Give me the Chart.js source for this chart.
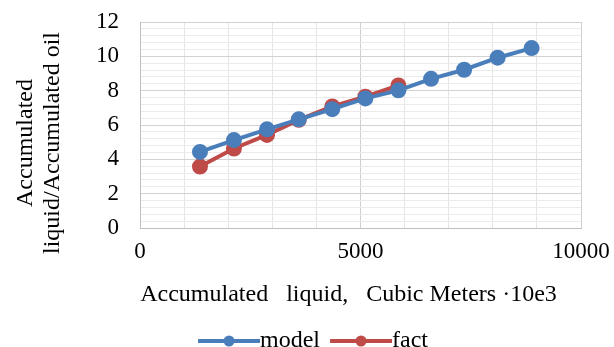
<!DOCTYPE html>
<html>
<head>
<meta charset="utf-8">
<script src="https://cdn.jsdelivr.net/npm/chart.js@4/dist/chart.umd.min.js"></script>
<style>
  html, body { margin: 0; padding: 0; background: #fff; }
  #wrap { width: 614px; height: 347px; }
</style>
</head>
<body>
<div id="wrap"><canvas id="chart"></canvas></div>
<script>
// data
const liquidX = [1360, 2130, 2880, 3600, 4360, 5110, 5860, 6600, 7350, 8110, 8880];
const modelY = [4.43, 5.12, 5.75, 6.33, 6.92, 7.55, 8.02, 8.69, 9.22, 9.92, 10.48];
const factX = [1360, 2130, 2880, 3600, 4360, 5110, 5860];
const factY = [3.58, 4.63, 5.42, 6.30, 7.08, 7.65, 8.30];
const seriesNames = ['model', 'fact'];
const xTickLabels = [0, 5000, 10000];
const yTickLabels = [0, 2, 4, 6, 8, 10, 12];
const yTitleLines = ['Accumulated', 'liquid/Accumulated oil'];
const xTitle = 'Accumulated   liquid,   Cubic Meters ·10e3    ';

const blue = '#4a7ebb';
const red = '#be4b48';
const serif = "'Liberation Serif', 'Times New Roman', serif";

// legend symbol: line with a dot, shifted so the line ends where the text starts
function legendIcon(color) {
  const c = document.createElement('canvas');
  c.width = 78; c.height = 14;
  const g = c.getContext('2d');
  g.strokeStyle = color; g.lineWidth = 4;
  g.beginPath(); g.moveTo(16, 7); g.lineTo(78, 7); g.stroke();
  g.fillStyle = color;
  g.beginPath(); g.arc(47, 7, 5.5, 0, Math.PI * 2); g.fill();
  return c;
}

const isNear = (v, list) => list.some(t => Math.abs(v - t) < 1e-6);

// two-line rotated y title, placed like in the source figure
const yTitlePlugin = {
  id: 'yTitle',
  afterDraw(chart) {
    const c = chart.ctx;
    c.save();
    c.fillStyle = '#000';
    c.font = '24px ' + serif;
    c.textAlign = 'center';
    c.textBaseline = 'middle';
    const xs = [26, 53];
    yTitleLines.forEach((t, i) => {
      c.save();
      c.translate(xs[i], 143);
      c.rotate(-Math.PI / 2);
      c.fillText(t, 0, 0);
      c.restore();
    });
    c.restore();
  }
};

const ctx = document.getElementById('chart').getContext('2d');
new Chart(ctx, {
  type: 'line',
  data: {
    datasets: [{
      label: seriesNames[0],
      data: liquidX.map((x, i) => ({ x: x, y: modelY[i] })),
      borderColor: blue,
      backgroundColor: blue,
      borderWidth: 4,
      pointRadius: 6,
      pointHoverRadius: 6,
      tension: 0
    }, {
      label: seriesNames[1],
      data: factX.map((x, i) => ({ x: x, y: factY[i] })),
      borderColor: red,
      backgroundColor: red,
      borderWidth: 4,
      pointRadius: 6,
      pointHoverRadius: 6,
      tension: 0
    }]
  },
  plugins: [yTitlePlugin],
  options: {
    responsive: true,
    maintainAspectRatio: false,
    animation: false,
    layout: { padding: { top: 22, right: 33, bottom: -16, left: 41 } },
    plugins: {
      tooltip: { enabled: false },
      legend: {
        position: 'bottom',
        labels: {
          color: '#000',
          font: { family: serif, size: 24 },
          usePointStyle: true,
          pointStyleWidth: 54,
          padding: 6,
          generateLabels: chart => chart.data.datasets.map((d, i) => ({
            text: d.label,
            pointStyle: legendIcon(d.borderColor),
            fillStyle: d.borderColor,
            strokeStyle: d.borderColor,
            lineWidth: 0,
            fontColor: '#000',
            datasetIndex: i
          }))
        }
      }
    },
    scales: {
      x: {
        type: 'linear',
        min: 0,
        max: 10000,
        afterFit: s => { s.height = 95; s.paddingLeft = 0; s.paddingRight = 0; },
        ticks: {
          stepSize: 1000,
          autoSkip: false,
          maxRotation: 0,
          color: '#000',
          padding: 10,
          font: { family: serif, size: 23 },
          callback: v => isNear(v, xTickLabels) ? v : ''
        },
        grid: {
          color: c => (c.tick && isNear(c.tick.value, [5000, 10000])) ? '#d0d0d0' : '#e4e4e4',
          drawTicks: false
        },
        border: { color: '#c0c0c0' },
        title: {
          display: true,
          text: xTitle,
          color: '#000',
          font: { family: serif, size: 24 },
          padding: { top: 4, bottom: 14 }
        }
      },
      y: {
        min: 0,
        max: 12,
        afterFit: s => { s.width = 99; s.paddingTop = 0; s.paddingBottom = 0; },
        ticks: {
          stepSize: 0.4,
          autoSkip: false,
          color: '#000',
          padding: 21,
          font: { family: serif, size: 23 },
          callback: v => isNear(v, yTickLabels) ? v : ''
        },
        grid: {
          color: c => (c.tick && isNear(c.tick.value, yTickLabels)) ? '#d2d2d2' : '#ebebeb',
          drawTicks: false
        },
        border: { color: '#c0c0c0' }
      }
    }
  }
});
</script>
</body>
</html>
